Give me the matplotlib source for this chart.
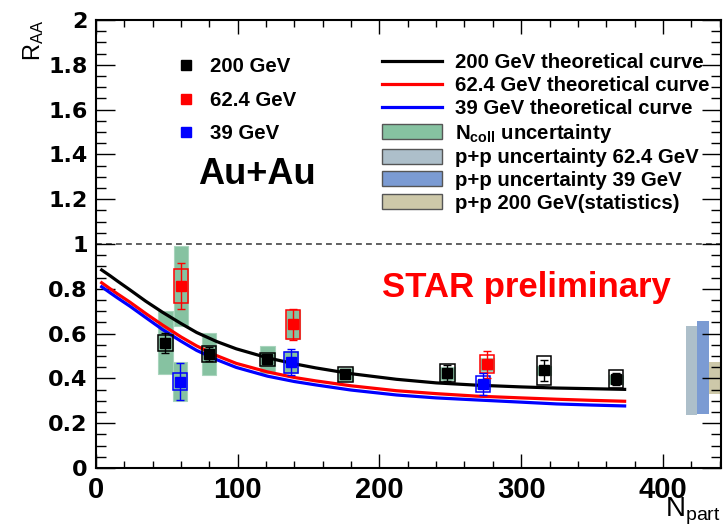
import numpy as np
import matplotlib.pyplot as plt
from matplotlib.lines import Line2D
from matplotlib.patches import Patch

plt.rcParams['font.family'] = ['Liberation Sans', 'DejaVu Sans']
plt.rcParams['mathtext.fontset'] = 'custom'
plt.rcParams['mathtext.rm'] = 'Liberation Sans'
plt.rcParams['mathtext.bf'] = 'Liberation Sans:bold'

##### data #####
# 200 GeV
npart_200 = [49, 80, 121, 176, 248, 316, 367]
raa_200 = [0.559, 0.509, 0.485, 0.418, 0.423, 0.437, 0.397]
stat_200 = [0.045, 0.03, 0.02, 0.015, 0.035, 0.047, 0.025]
sys_200 = [0.035, 0.037, 0.03, 0.033, 0.04, 0.065, 0.041]
ncoll_200 = [0.14, 0.095, 0.06, 0.03, 0.03, 0.02, 0.02]

# 62.4 GeV
npart_62 = [60, 139, 276]
raa_62 = [0.8125, 0.641, 0.463]
stat_62 = [0.103, 0.068, 0.06]
sys_62 = [0.075, 0.063, 0.04]
ncoll_62 = [0.178, 0.063, 0.03]

# 39 GeV
npart_39 = [59.5, 137.4, 273.3]
raa_39 = [0.385, 0.473, 0.374]
stat_39 = [0.082, 0.06, 0.048]
sys_39 = [0.037, 0.047, 0.036]
ncoll_39 = [0.087, 0.05, 0.02]

# theoretical curves
curve_x = [4, 10, 15, 24, 35, 47, 60, 71, 85, 99, 121, 140, 155, 180, 212, 240, 268, 300, 325, 350, 373]
curve_200 = [0.884, 0.858, 0.835, 0.795, 0.745, 0.695, 0.645, 0.605, 0.565, 0.532, 0.492, 0.465, 0.447,
             0.421, 0.396, 0.38, 0.37, 0.362, 0.357, 0.354, 0.351]
curve_62 = [0.827, 0.80, 0.778, 0.74, 0.69, 0.638, 0.585, 0.545, 0.502, 0.467, 0.429, 0.404, 0.389,
            0.367, 0.345, 0.332, 0.321, 0.313, 0.307, 0.302, 0.298]
curve_39 = [0.809, 0.782, 0.76, 0.722, 0.672, 0.618, 0.566, 0.525, 0.484, 0.449, 0.41, 0.386, 0.371,
            0.348, 0.326, 0.313, 0.304, 0.294, 0.286, 0.281, 0.277]

# p+p normalisation boxes at the right edge: 62.4, 39, 200
pp_left = [416, 424.3, 432.3]
pp_lo = [0.237, 0.24, 0.33]
pp_hi = [0.634, 0.657, 0.475]
pp_colors = ['#adbfca', '#7b9bd3', '#cdc8a9']

ncoll_color = '#86c2a1'

yticks = [0, 0.2, 0.4, 0.6, 0.8, 1, 1.2, 1.4, 1.6, 1.8, 2]
ytick_labels = ['0', '0.2', '0.4', '0.6', '0.8', '1', '1.2', '1.4', '1.6', '1.8', '2']
xticks = [0, 100, 200, 300, 400]
xtick_labels = ['0', '100', '200', '300', '400']

W, H = 723, 526
fig = plt.figure(figsize=(W / 100, H / 100), dpi=100)
ax = fig.add_axes([96 / W, 1 - 468 / H, 625 / W, 448 / H])

sets = [
    (npart_200, raa_200, stat_200, sys_200, ncoll_200, 'black'),
    (npart_62, raa_62, stat_62, sys_62, ncoll_62, '#ff0000'),
    (npart_39, raa_39, stat_39, sys_39, ncoll_39, '#0000ff'),
]

# Ncoll uncertainty boxes
for x, y, st, sy, nc, c in sets:
    y = np.array(y)
    nc = np.array(nc)
    ax.bar(x, 2 * nc, bottom=y - nc, width=10, color=ncoll_color, edgecolor='#a8d4bc',
           linewidth=0.8, zorder=1)

# curves
ax.plot(curve_x, curve_200, color='black', lw=2.3, zorder=2)
ax.plot(curve_x, curve_62, color='#ff0000', lw=2.3, zorder=2)
ax.plot(curve_x, curve_39, color='#0000ff', lw=2.3, zorder=2)

# sys boxes, stat errors and markers
for x, y, st, sy, nc, c in sets:
    y = np.array(y)
    sy = np.array(sy)
    ax.bar(x, 2 * sy, bottom=y - sy, width=10, fill=False, edgecolor=c, linewidth=1.1, zorder=3)
    ax.errorbar(x, y, yerr=st, fmt='none', ecolor=c, elinewidth=1, capsize=3, capthick=1, zorder=4)
    ax.plot(x, y, 's', ms=7.2, color=c, zorder=5)

# p+p boxes
for xl, lo, hi, c in zip(pp_left, pp_lo, pp_hi, pp_colors):
    ax.bar(xl, hi - lo, bottom=lo, width=8.3, align='edge', color=c, zorder=1)

ax.axhline(1, color='#444444', lw=1.2, dashes=(3.5, 2.5), zorder=1)

ax.set_xlim(0, 441)
ax.set_ylim(0, 2)

ax.set_yticks(yticks, labels=ytick_labels, fontfamily='DejaVu Sans', fontweight='bold', fontsize=16)
ax.set_xticks(xticks, labels=xtick_labels, fontweight='bold', fontsize=21)
ax.set_yticks(np.arange(0, 2.001, 0.05), minor=True)
ax.set_xticks(np.arange(0, 441, 20), minor=True)
ax.tick_params(axis='y', which='major', direction='in', length=13.5, width=1, left=True, right=True, pad=6)
ax.tick_params(axis='y', which='minor', direction='in', length=7, width=1, left=True, right=True)
ax.tick_params(axis='x', which='major', direction='in', length=10, width=1, top=True, bottom=True, pad=6)
ax.tick_params(axis='x', which='minor', direction='in', length=5, width=1, top=True, bottom=True)
for sp in ax.spines.values():
    sp.set_linewidth(1.5)

ax.text(-0.1, 1.0, r'$\mathrm{R_{AA}}$', transform=ax.transAxes, rotation=90,
        ha='center', va='top', fontsize=17)
ax.text(1.0, -0.109, r'$\mathrm{N_{part}}$', transform=ax.transAxes,
        ha='right', va='baseline', fontsize=20)

ax.text(257 / W, 1 - 174 / H, 'Au+Au', transform=fig.transFigure, ha='center', va='center',
        fontsize=26, fontweight='bold')
ax.text(304, 0.765, 'STAR preliminary', ha='center', va='baseline', fontsize=25,
        fontweight='bold', color='#ff0000')

# legends
h1 = [Line2D([], [], ls='none', marker='s', ms=7.2, color=c) for c in ['black', '#ff0000', '#0000ff']]
leg1 = ax.legend(h1, ['200 GeV', '62.4 GeV', '39 GeV'], loc='upper left',
                 bbox_to_anchor=(175.3 / W, 1 - 57 / H), bbox_transform=fig.transFigure,
                 frameon=False, prop=dict(weight='bold', size=14.7), handlelength=1.0,
                 handletextpad=0.72, labelspacing=0.72, borderpad=0, borderaxespad=0)
ax.add_artist(leg1)

h2 = [Line2D([], [], color='black', lw=2.3),
      Line2D([], [], color='#ff0000', lw=2.3),
      Line2D([], [], color='#0000ff', lw=2.3),
      Patch(facecolor=ncoll_color, edgecolor='#555555', lw=1),
      Patch(facecolor=pp_colors[0], edgecolor='#555555', lw=1),
      Patch(facecolor=pp_colors[1], edgecolor='#555555', lw=1),
      Patch(facecolor=pp_colors[2], edgecolor='#555555', lw=1)]
l2 = ['200 GeV theoretical curve', '62.4 GeV theoretical curve', '39 GeV theoretical curve',
      r'$\mathbf{N_{coll}}$ uncertainty', 'p+p uncertainty 62.4 GeV', 'p+p uncertainty 39 GeV',
      'p+p 200 GeV(statistics)']
leg2 = ax.legend(h2, l2, loc='upper left', bbox_to_anchor=(381.7 / W, 1 - 53.5 / H),
                 bbox_transform=fig.transFigure, frameon=False, prop=dict(weight='bold', size=14.7),
                 handlelength=2.94, handleheight=0.75, handletextpad=0.65, labelspacing=0.18,
                 borderpad=0, borderaxespad=0)

fig.savefig('out.png', dpi=100)
